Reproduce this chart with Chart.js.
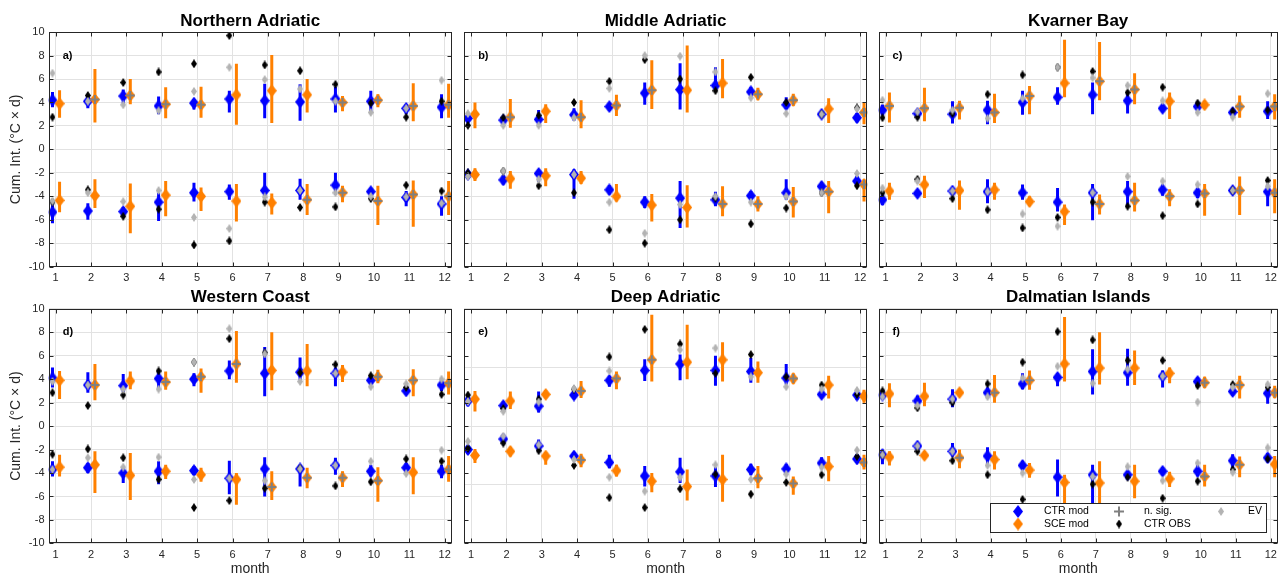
<!DOCTYPE html>
<html>
<head>
<meta charset="utf-8">
<script src="https://cdn.jsdelivr.net/npm/chart.js@4.4.0/dist/chart.umd.min.js"></script>
<style>
  html, body { margin: 0; padding: 0; background: #fff; }
  #wrap { position: relative; width: 1282px; height: 578px; overflow: hidden; }
  #wrap canvas { position: absolute; left: 0; top: 0; }
</style>
</head>
<body>
<div id="wrap"></div>
<script>
const months = [1, 2, 3, 4, 5, 6, 7, 8, 9, 10, 11, 12];

// a) Northern Adriatic
const naCtrPos = [4.2, 4.1, 4.55, 3.7, 3.95, 4.3, 4.15, 4.05, 4.3, 4.1, 3.5, 3.6];
const naCtrPosBar = [[3.6, 4.9], [3.5, 4.5], [3.9, 5.1], [3.0, 4.5], [3.4, 4.3], [3.15, 5.0], [2.65, 5.6], [2.45, 5.55], [3.15, 5.35], [3.15, 5.0], [3.0, 3.85], [2.65, 4.7]];
const naScePos = [3.9, 4.25, 4.6, 3.85, 3.8, 4.65, 5.0, 4.65, 4.0, 4.2, 3.7, 3.8];
const naScePosBar = [[2.7, 5.05], [2.3, 6.85], [3.85, 6.0], [2.65, 5.3], [2.7, 5.35], [2.1, 7.3], [2.25, 8.05], [3.15, 6.0], [3.25, 4.55], [3.6, 4.7], [2.4, 5.65], [2.7, 5.6]];
const naObsPos = [2.75, 4.6, 5.7, 6.6, 7.3, 9.7, 7.2, 6.7, 5.55, 3.95, 2.75, 4.1];
const naEvPos = [6.5, 4.1, 3.8, 3.3, 4.95, 7.0, 5.95, 5.15, 4.1, 3.15, 3.5, 5.9];
const naNsigPos = [0, 1, 1, 1, 1, 0, 0, 0, 1, 1, 1, 1];
const naCtrNeg = [-5.35, -5.25, -5.3, -4.5, -3.7, -3.6, -3.5, -3.5, -3.05, -3.6, -4.1, -4.65];
const naCtrNegBar = [[-6.3, -4.3], [-6.0, -4.6], [-5.8, -4.9], [-6.1, -3.7], [-4.45, -2.85], [-4.3, -3.0], [-4.15, -2.0], [-4.3, -2.5], [-3.85, -2.0], [-4.15, -3.3], [-4.85, -3.55], [-5.65, -4.0]];
const naSceNeg = [-4.35, -3.95, -4.85, -3.9, -4.0, -4.4, -4.55, -4.3, -3.7, -4.4, -3.85, -4.0];
const naSceNegBar = [[-5.35, -2.75], [-5.0, -2.55], [-7.15, -2.9], [-5.7, -2.7], [-5.25, -3.25], [-6.15, -2.95], [-5.55, -3.75], [-5.6, -2.95], [-4.5, -3.1], [-6.45, -3.1], [-6.6, -2.65], [-5.6, -2.7]];
const naObsNeg = [-4.5, -3.45, -5.7, -5.1, -8.15, -7.8, -4.5, -4.95, -4.9, -4.2, -3.05, -3.55];
const naEvNeg = [-4.4, -3.7, -4.45, -3.5, -5.8, -6.75, -4.05, -3.5, -3.7, -4.0, -4.05, -4.6];
const naNsigNeg = [0, 0, 0, 0, 0, 0, 0, 1, 1, 1, 1, 1];

// b) Middle Adriatic
const maCtrPos = [2.65, 2.5, 2.55, 2.95, 3.65, 4.8, 5.1, 5.45, 4.9, 3.8, 3.0, 2.7];
const maCtrPosBar = [[2.3, 3.0], [2.2, 2.8], [2.15, 3.35], [2.45, 3.5], [3.3, 3.95], [3.8, 5.7], [3.4, 7.35], [5.0, 7.0], [4.45, 5.35], [3.45, 4.45], [2.7, 3.3], [2.3, 3.1]];
const maScePos = [3.0, 2.75, 3.25, 2.75, 3.75, 5.05, 5.05, 5.65, 4.7, 4.2, 3.45, 3.15];
const maScePosBar = [[1.8, 4.0], [1.85, 4.3], [2.25, 3.85], [1.8, 4.2], [2.85, 4.65], [3.45, 7.6], [3.15, 8.85], [4.35, 7.7], [4.2, 5.25], [3.7, 4.75], [2.25, 4.35], [2.15, 4.0]];
const maObsPos = [2.05, 2.7, 2.9, 4.0, 5.8, 7.65, 6.0, 5.0, 6.15, 4.0, 3.0, 3.55];
const maEvPos = [3.05, 2.05, 2.05, 2.7, 5.2, 8.0, 7.95, 6.6, 4.4, 3.05, 3.0, 3.45];
const maNsigPos = [0, 1, 0, 1, 1, 1, 0, 0, 1, 1, 0, 1];
const maCtrNeg = [-2.15, -2.6, -2.05, -2.15, -3.45, -4.5, -4.15, -4.3, -3.95, -3.7, -3.15, -2.7];
const maCtrNegBar = [[-2.5, -1.85], [-3.0, -2.2], [-2.75, -1.8], [-4.2, -1.7], [-3.85, -3.05], [-5.0, -4.0], [-6.7, -2.7], [-4.85, -3.6], [-4.35, -3.55], [-4.3, -2.55], [-3.6, -2.75], [-3.1, -2.25]];
const maSceNeg = [-2.15, -2.5, -2.25, -2.45, -4.0, -4.75, -4.95, -4.65, -4.65, -4.45, -3.6, -3.0];
const maSceNegBar = [[-2.7, -1.6], [-3.35, -1.85], [-3.15, -1.6], [-2.95, -1.85], [-4.45, -2.95], [-6.15, -3.8], [-6.65, -3.05], [-5.7, -3.15], [-5.3, -4.0], [-5.8, -3.2], [-5.45, -2.7], [-4.45, -2.55]];
const maObsNeg = [-2.0, -1.85, -3.1, -3.7, -6.85, -8.0, -6.0, -4.15, -6.35, -5.0, -3.7, -3.1];
const maEvNeg = [-2.3, -1.85, -2.55, -2.15, -4.5, -7.15, -4.7, -4.0, -4.5, -4.0, -3.7, -2.05];
const maNsigNeg = [0, 0, 0, 0, 0, 0, 0, 1, 1, 1, 1, 1];

// c) Kvarner Bay
const kbCtrPos = [3.35, 3.05, 3.0, 3.35, 4.0, 4.45, 4.65, 4.15, 3.5, 3.65, 3.15, 3.25];
const kbCtrPosBar = [[2.9, 3.8], [2.9, 3.3], [2.2, 4.1], [2.15, 4.15], [2.95, 5.0], [3.8, 5.3], [3.0, 5.7], [3.05, 4.85], [3.2, 3.9], [3.3, 3.95], [2.85, 3.5], [2.6, 4.1]];
const kbScePos = [3.7, 3.5, 3.55, 3.15, 4.55, 5.65, 5.8, 5.1, 4.1, 3.8, 3.65, 3.65];
const kbScePosBar = [[2.3, 4.85], [2.4, 5.25], [2.55, 4.15], [2.25, 4.75], [3.0, 5.4], [4.45, 9.35], [4.2, 9.15], [3.85, 6.5], [2.6, 4.85], [3.45, 4.15], [2.7, 4.6], [2.55, 4.7]];
const kbObsPos = [2.7, 2.75, 3.05, 4.7, 6.35, 7.0, 6.65, 4.85, 5.3, 3.95, 3.25, 3.35];
const kbEvPos = [4.2, 3.2, 3.35, 2.65, 4.35, 7.0, 6.1, 5.45, 4.15, 3.15, 2.75, 4.75];
const kbNsigPos = [1, 1, 1, 1, 1, 0, 1, 1, 0, 0, 1, 1];
const kbCtrNeg = [-4.3, -3.75, -3.55, -3.6, -3.7, -4.5, -3.7, -3.6, -3.45, -3.7, -3.5, -3.6];
const kbCtrNegBar = [[-4.75, -3.85], [-4.0, -3.5], [-3.8, -3.3], [-4.6, -2.55], [-4.3, -3.0], [-5.3, -3.3], [-6.05, -2.95], [-4.75, -2.7], [-3.95, -3.0], [-4.15, -3.3], [-3.8, -3.25], [-4.85, -3.0]];
const kbSceNeg = [-3.55, -3.0, -3.5, -3.45, -4.45, -5.3, -4.65, -4.35, -4.0, -3.75, -3.5, -3.7];
const kbSceNegBar = [[-4.3, -2.85], [-4.15, -2.25], [-5.15, -2.65], [-4.3, -2.85], [-4.85, -4.0], [-6.45, -4.7], [-5.55, -3.85], [-5.3, -2.85], [-4.85, -3.4], [-5.65, -2.95], [-5.6, -2.3], [-5.45, -2.55]];
const kbObsNeg = [-3.7, -2.55, -4.2, -5.15, -6.7, -5.8, -4.5, -4.85, -5.65, -4.65, -3.5, -2.65];
const kbEvNeg = [-3.3, -2.7, -3.55, -3.6, -5.5, -6.55, -3.7, -2.3, -2.7, -3.0, -3.5, -3.15];
const kbNsigNeg = [0, 0, 0, 0, 0, 0, 1, 1, 1, 1, 1, 1];

// d) Western Coast
const wcCtrPos = [4.1, 3.5, 3.45, 4.05, 4.0, 4.7, 4.5, 4.6, 4.5, 3.9, 3.0, 3.5];
const wcCtrPosBar = [[3.3, 5.0], [2.85, 4.6], [2.9, 4.45], [3.1, 4.7], [3.4, 4.5], [4.0, 5.6], [2.55, 6.75], [3.9, 5.85], [3.4, 5.0], [3.55, 4.25], [2.7, 3.3], [3.0, 4.0]];
const wcScePos = [3.9, 3.5, 3.85, 3.75, 4.2, 5.3, 4.75, 4.7, 4.6, 4.2, 3.9, 3.65];
const wcScePosBar = [[2.3, 4.7], [2.2, 5.3], [3.15, 4.65], [3.1, 4.65], [2.85, 4.9], [3.7, 8.1], [3.05, 8.0], [3.4, 7.0], [3.75, 5.2], [3.65, 4.8], [2.55, 4.85], [2.7, 4.65]];
const wcObsPos = [2.85, 1.75, 2.65, 4.7, 5.45, 7.45, 6.25, 4.55, 5.25, 4.3, 3.3, 2.7];
const wcEvPos = [3.8, 3.5, 3.15, 3.15, 5.45, 8.3, 6.15, 3.8, 4.5, 3.35, 3.6, 4.0];
const wcNsigPos = [0, 1, 0, 1, 1, 1, 0, 0, 0, 1, 1, 1];
const wcCtrNeg = [-3.7, -3.55, -4.0, -3.85, -3.8, -4.45, -3.65, -3.65, -3.35, -3.85, -3.55, -3.85];
const wcCtrNegBar = [[-4.3, -3.0], [-4.0, -3.15], [-4.85, -3.45], [-4.95, -3.0], [-4.15, -3.4], [-5.8, -2.95], [-6.0, -2.65], [-5.15, -3.3], [-4.15, -2.7], [-4.3, -3.3], [-4.0, -3.15], [-4.45, -3.3]];
const wcSceNeg = [-3.5, -3.3, -4.2, -3.85, -4.15, -4.55, -5.2, -4.4, -4.4, -4.65, -3.95, -3.7];
const wcSceNegBar = [[-4.3, -2.45], [-5.7, -2.15], [-6.3, -2.3], [-4.5, -3.3], [-4.75, -3.55], [-6.7, -4.0], [-6.3, -3.85], [-5.3, -3.55], [-5.2, -3.85], [-6.45, -3.5], [-5.8, -2.65], [-4.75, -2.55]];
const wcObsNeg = [-2.4, -1.95, -2.7, -4.55, -6.95, -6.35, -5.3, -3.6, -5.1, -4.75, -2.8, -3.0];
const wcEvNeg = [-3.7, -2.7, -3.5, -2.65, -4.55, -4.45, -4.65, -3.65, -3.35, -3.0, -4.05, -2.05];
const wcNsigNeg = [0, 0, 0, 0, 0, 0, 1, 1, 1, 1, 0, 1];

// e) Deep Adriatic
const daCtrPos = [2.15, 1.75, 1.7, 2.65, 3.9, 4.75, 5.3, 4.75, 4.65, 4.1, 2.7, 2.65];
const daCtrPosBar = [[1.7, 2.5], [1.45, 2.1], [1.15, 2.95], [2.35, 3.0], [3.35, 4.3], [3.85, 5.7], [3.9, 6.1], [3.45, 6.0], [3.7, 5.8], [3.55, 5.3], [2.4, 3.05], [2.2, 3.1]];
const daScePos = [2.3, 2.15, 2.7, 3.0, 4.05, 5.65, 5.45, 5.65, 4.55, 4.05, 3.5, 2.55];
const daScePosBar = [[1.25, 3.0], [1.45, 2.95], [2.4, 3.05], [2.4, 3.85], [3.15, 4.65], [3.8, 9.5], [4.0, 8.65], [3.8, 7.15], [3.7, 5.5], [3.6, 4.5], [2.35, 4.3], [2.0, 3.1]];
const daObsPos = [2.65, 1.5, 2.3, 3.15, 5.9, 8.25, 7.0, 4.5, 6.1, 4.2, 3.5, 2.7];
const daEvPos = [2.1, 1.25, 2.05, 3.2, 4.7, null, 6.5, 6.65, 4.2, 3.35, 3.15, 3.05];
const daNsigPos = [0, 0, 0, 1, 1, 1, 0, 0, 0, 1, 0, 0];
const daCtrNeg = [-2.0, -1.1, -1.7, -2.55, -3.1, -4.25, -3.9, -4.25, -3.7, -3.65, -3.15, -2.8];
const daCtrNegBar = [[-2.4, -1.75], [-1.45, -0.8], [-2.15, -1.15], [-2.9, -2.2], [-3.6, -2.45], [-5.15, -3.4], [-4.85, -2.7], [-5.2, -3.5], [-4.2, -3.2], [-4.15, -3.2], [-3.6, -2.65], [-3.15, -2.4]];
const daSceNeg = [-2.5, -2.15, -2.55, -2.9, -3.8, -4.7, -5.15, -4.55, -4.45, -4.9, -3.45, -3.1];
const daSceNegBar = [[-3.15, -1.95], [-2.6, -1.75], [-3.3, -2.2], [-3.5, -2.35], [-4.3, -3.3], [-5.65, -4.0], [-6.35, -3.7], [-6.45, -2.45], [-5.3, -3.4], [-5.85, -4.3], [-4.7, -2.55], [-3.7, -2.45]];
const daObsNeg = [-1.9, -1.45, -2.1, -3.35, -6.1, -6.95, -5.35, -4.1, -5.8, -4.8, -4.15, -2.6];
const daEvNeg = [-1.3, -0.85, -1.6, -2.85, -4.35, -5.55, -4.35, -3.3, -4.55, -4.1, -3.5, -2.05];
const daNsigNeg = [0, 0, 0, 1, 0, 0, 0, 0, 1, 1, 0, 1];

// f) Dalmatian Islands
const diCtrPos = [2.65, 2.15, 2.3, 2.85, 3.6, 4.15, 4.65, 4.55, 4.25, 3.8, 2.95, 2.8];
const diCtrPosBar = [[2.3, 3.0], [1.7, 2.6], [1.6, 3.15], [2.45, 3.3], [3.15, 4.5], [3.4, 4.5], [2.7, 6.55], [3.45, 6.6], [3.3, 4.75], [3.3, 4.15], [2.6, 3.3], [1.9, 3.45]];
const diScePos = [2.75, 2.55, 2.85, 2.85, 3.9, 5.3, 4.95, 4.95, 4.5, 3.7, 3.5, 2.85];
const diScePosBar = [[1.6, 3.65], [1.7, 3.7], [2.6, 3.15], [2.0, 4.35], [3.1, 4.75], [3.8, 9.3], [3.55, 8.0], [3.5, 6.45], [3.65, 5.0], [3.25, 4.2], [2.35, 4.3], [2.4, 3.45]];
const diObsPos = [3.0, 1.55, 2.0, 3.6, 5.45, 8.05, 7.35, 5.6, 5.6, 3.45, 3.55, 3.3];
const diEvPos = [2.5, 1.75, 2.3, 2.5, 4.1, 5.1, 3.65, 4.85, 4.25, 2.05, 3.3, 3.55];
const diNsigPos = [0, 0, 0, 1, 1, 0, 0, 0, 0, 1, 1, 1];
const diCtrNeg = [-2.45, -1.7, -2.15, -2.55, -3.35, -4.35, -4.15, -4.15, -3.85, -3.85, -2.95, -2.7];
const diCtrNegBar = [[-3.25, -2.0], [-2.1, -1.4], [-2.6, -1.45], [-3.2, -1.8], [-3.7, -2.95], [-6.0, -2.85], [-6.75, -3.3], [-4.55, -3.85], [-4.15, -3.5], [-4.3, -3.3], [-3.6, -2.4], [-3.1, -2.3]];
const diSceNeg = [-2.65, -2.5, -2.7, -2.85, -3.75, -4.8, -4.85, -4.7, -4.5, -4.3, -3.3, -3.25];
const diSceNegBar = [[-3.35, -2.15], [-2.85, -2.15], [-3.6, -2.0], [-3.7, -2.15], [-4.4, -3.15], [-7.0, -4.15], [-7.0, -3.0], [-6.15, -3.3], [-5.2, -3.9], [-5.15, -3.3], [-4.35, -2.6], [-4.35, -2.55]];
const diObsNeg = [-2.45, -2.15, -2.95, -4.15, -6.25, -7.3, -4.95, -4.35, -6.15, -4.7, -3.7, -2.8];
const diEvNeg = [-2.45, -1.7, -2.15, -3.35, -4.0, -7.0, -4.3, -3.45, -4.65, -3.15, -3.95, -1.85];
const diNsigNeg = [0, 0, 1, 0, 0, 0, 0, 0, 0, 1, 1, 0];

const yTicks = [-10, -8, -6, -4, -2, 0, 2, 4, 6, 8, 10];
const yTicksDeep = [-10, -8, -6, -5, -4, -2, 0, 2, 4, 5, 6, 8, 10];

// colours / fonts
const BLUE = '#0000ff', ORANGE = '#ff8000', OBS = '#000000', EVC = '#b3b3b3', NSIG = '#808080';
const GRID = '#e2e2e2', AXIS = '#262626';
const FONT = "'Liberation Sans', Arial, Helvetica, sans-serif";
Chart.defaults.font.family = FONT;

const ctrDx = -0.09, sceDx = 0.11;

function diamond(w, h, fill) {
  const c = document.createElement('canvas');
  c.width = w; c.height = h;
  const g = c.getContext('2d');
  g.fillStyle = fill;
  g.beginPath();
  g.moveTo(w / 2, 0); g.lineTo(w, h / 2); g.lineTo(w / 2, h); g.lineTo(0, h / 2);
  g.closePath(); g.fill();
  return c;
}
const mkBlue = diamond(10, 13, BLUE);
const mkOrange = diamond(10, 13, ORANGE);
const mkObs = diamond(6, 9, OBS);
const mkEv = diamond(6, 9, EVC);

function pts(vals, dx, mask) {
  const out = [];
  vals.forEach((v, i) => {
    if (v == null) return;
    if (mask && !mask[i]) return;
    out.push({ x: months[i] + dx, y: v });
  });
  return out;
}

const panels = [
  { title: 'Northern Adriatic', tag: 'a)', col: 0, row: 0,
    ctr: [naCtrPos, naCtrNeg], ctrBar: [naCtrPosBar, naCtrNegBar], sce: [naScePos, naSceNeg], sceBar: [naScePosBar, naSceNegBar],
    obs: [naObsPos, naObsNeg], ev: [naEvPos, naEvNeg], nsig: [naNsigPos, naNsigNeg] },
  { title: 'Middle Adriatic', tag: 'b)', col: 1, row: 0,
    ctr: [maCtrPos, maCtrNeg], ctrBar: [maCtrPosBar, maCtrNegBar], sce: [maScePos, maSceNeg], sceBar: [maScePosBar, maSceNegBar],
    obs: [maObsPos, maObsNeg], ev: [maEvPos, maEvNeg], nsig: [maNsigPos, maNsigNeg] },
  { title: 'Kvarner Bay', tag: 'c)', col: 2, row: 0,
    ctr: [kbCtrPos, kbCtrNeg], ctrBar: [kbCtrPosBar, kbCtrNegBar], sce: [kbScePos, kbSceNeg], sceBar: [kbScePosBar, kbSceNegBar],
    obs: [kbObsPos, kbObsNeg], ev: [kbEvPos, kbEvNeg], nsig: [kbNsigPos, kbNsigNeg] },
  { title: 'Western Coast', tag: 'd)', col: 0, row: 1,
    ctr: [wcCtrPos, wcCtrNeg], ctrBar: [wcCtrPosBar, wcCtrNegBar], sce: [wcScePos, wcSceNeg], sceBar: [wcScePosBar, wcSceNegBar],
    obs: [wcObsPos, wcObsNeg], ev: [wcEvPos, wcEvNeg], nsig: [wcNsigPos, wcNsigNeg] },
  { title: 'Deep Adriatic', tag: 'e)', col: 1, row: 1, deep: true,
    ctr: [daCtrPos, daCtrNeg], ctrBar: [daCtrPosBar, daCtrNegBar], sce: [daScePos, daSceNeg], sceBar: [daScePosBar, daSceNegBar],
    obs: [daObsPos, daObsNeg], ev: [daEvPos, daEvNeg], nsig: [daNsigPos, daNsigNeg] },
  { title: 'Dalmatian Islands', tag: 'f)', col: 2, row: 1, legend: true,
    ctr: [diCtrPos, diCtrNeg], ctrBar: [diCtrPosBar, diCtrNegBar], sce: [diScePos, diSceNeg], sceBar: [diScePosBar, diSceNegBar],
    obs: [diObsPos, diObsNeg], ev: [diEvPos, diEvNeg], nsig: [diNsigPos, diNsigNeg] }
];

// geometry of the plot boxes
const colLeft = [48.6, 464.0, 878.6], plotW = 403.2;
const rowTop = [33.3, 310.0], plotH = 233.4;
const titleBox = 33.3;

// error bars drawn under the markers
const errorBars = {
  id: 'errorBars',
  beforeDatasetsDraw(chart, args, opts) {
    const { ctx, chartArea: a, scales: { x, y } } = chart;
    ctx.save();
    ctx.beginPath(); ctx.rect(a.left, a.top, a.width, a.height); ctx.clip();
    ctx.lineWidth = 3;
    opts.sets.forEach(s => {
      ctx.strokeStyle = s.color;
      s.bars.forEach(list => list.forEach((b, i) => {
        if (!b) return;
        const px = x.getPixelForValue(months[i] + s.dx);
        ctx.beginPath();
        ctx.moveTo(px, y.getPixelForValue(b[0]));
        ctx.lineTo(px, y.getPixelForValue(b[1]));
        ctx.stroke();
      }));
    });
    ctx.restore();
  }
};

function drawLegend(ctx, a) {
  const W = 276, H = 29;
  const L = a.right - 11.8 - W, T = a.bottom - 11.4 - H;
  ctx.save();
  ctx.fillStyle = '#fff';
  ctx.fillRect(L, T, W, H);
  ctx.strokeStyle = AXIS; ctx.lineWidth = 1;
  ctx.strokeRect(Math.round(L) + 0.5, Math.round(T) + 0.5, W, H);
  const y1 = T + 8.5, y2 = T + 21;
  ctx.drawImage(mkBlue, L + 28 - 5, y1 - 6.5);
  ctx.drawImage(mkOrange, L + 28 - 5, y2 - 6.5);
  ctx.drawImage(mkObs, L + 129 - 3, y2 - 4.5);
  ctx.drawImage(mkEv, L + 231 - 3, y1 - 4.5);
  ctx.strokeStyle = NSIG; ctx.lineWidth = 2;
  ctx.beginPath();
  ctx.moveTo(L + 129 - 5, y1); ctx.lineTo(L + 129 + 5, y1);
  ctx.moveTo(L + 129, y1 - 5); ctx.lineTo(L + 129, y1 + 5);
  ctx.stroke();
  ctx.fillStyle = '#000';
  ctx.font = '10.5px ' + FONT;
  ctx.textBaseline = 'middle'; ctx.textAlign = 'left';
  ctx.fillText('CTR mod', L + 54, y1);
  ctx.fillText('SCE mod', L + 54, y2);
  ctx.fillText('n. sig.', L + 154, y1);
  ctx.fillText('CTR OBS', L + 154, y2);
  ctx.fillText('EV', L + 258, y1);
  ctx.restore();
}

// axes box, inward ticks, panel letter, legend
const frame = {
  id: 'frame',
  afterDraw(chart, args, opts) {
    const { ctx, chartArea: a, scales: { x, y } } = chart;
    ctx.save();
    ctx.strokeStyle = AXIS; ctx.lineWidth = 1;
    const L = Math.round(a.left) + 0.5, R = Math.round(a.right) - 0.5;
    const T = Math.round(a.top) + 0.5, B = Math.round(a.bottom) - 0.5;
    ctx.beginPath();
    months.forEach(m => {
      const px = Math.round(x.getPixelForValue(m)) + 0.5;
      ctx.moveTo(px, B); ctx.lineTo(px, B - 4);
      ctx.moveTo(px, T); ctx.lineTo(px, T + 4);
    });
    yTicks.forEach(v => {
      const py = Math.round(y.getPixelForValue(v)) + 0.5;
      ctx.moveTo(L, py); ctx.lineTo(L + 4, py);
      ctx.moveTo(R, py); ctx.lineTo(R - 4, py);
    });
    ctx.stroke();
    ctx.strokeRect(L, T, R - L, B - T);
    ctx.fillStyle = '#000';
    ctx.font = 'bold 11px ' + FONT;
    ctx.textBaseline = 'middle'; ctx.textAlign = 'left';
    ctx.fillText(opts.tag, x.getPixelForValue(1.2), y.getPixelForValue(8));
    ctx.restore();
    if (opts.legend) drawLegend(ctx, a);
  }
};

const wrap = document.getElementById('wrap');

panels.forEach(p => {
  const canvas = document.createElement('canvas');
  canvas.width = 1282; canvas.height = 578;
  wrap.appendChild(canvas);

  const yW = p.col === 0 ? 48 : 0;
  const xH = p.row === 0 ? 20 : 34.6;
  const padding = {
    left: colLeft[p.col] - yW,
    right: 1282 - (colLeft[p.col] + plotW),
    top: rowTop[p.row] - titleBox,
    bottom: Math.max(0, 578 - (rowTop[p.row] + plotH) - xH)
  };
  const ticksY = p.deep ? yTicksDeep : yTicks;

  new Chart(canvas, {
    type: 'scatter',
    data: {
      datasets: [
        { label: 'n. sig.', data: pts(p.sce[0], sceDx, p.nsig[0]).concat(pts(p.sce[1], sceDx, p.nsig[1])),
          pointStyle: 'cross', pointRadius: 4.5, pointBorderColor: NSIG, pointBorderWidth: 2, order: 1 },
        { label: 'EV', data: pts(p.ev[0], ctrDx).concat(pts(p.ev[1], ctrDx)),
          pointStyle: mkEv, pointRadius: 4, order: 2 },
        { label: 'CTR OBS', data: pts(p.obs[0], ctrDx).concat(pts(p.obs[1], ctrDx)),
          pointStyle: mkObs, pointRadius: 4, order: 3 },
        { label: 'SCE mod', data: pts(p.sce[0], sceDx).concat(pts(p.sce[1], sceDx)),
          pointStyle: mkOrange, pointRadius: 6, order: 4 },
        { label: 'CTR mod', data: pts(p.ctr[0], ctrDx).concat(pts(p.ctr[1], ctrDx)),
          pointStyle: mkBlue, pointRadius: 6, order: 5 }
      ]
    },
    options: {
      responsive: false,
      animation: false,
      devicePixelRatio: 1,
      events: [],
      layout: { padding: padding, autoPadding: false },
      plugins: {
        legend: { display: false },
        tooltip: { enabled: false },
        title: {
          display: true, text: p.title, fullSize: false, color: '#000',
          font: { size: 17, weight: 'bold' }, padding: { top: 10.7, bottom: 1 }
        },
        errorBars: {
          sets: [
            { color: BLUE, dx: ctrDx, bars: p.ctrBar },
            { color: ORANGE, dx: sceDx, bars: p.sceBar }
          ]
        },
        frame: { tag: p.tag, legend: !!p.legend }
      },
      scales: {
        x: {
          type: 'linear', min: 0.8, max: 12.2,
          afterBuildTicks: s => { s.ticks = months.map(v => ({ value: v })); },
          afterFit: s => { s.height = xH; },
          grid: { color: GRID, drawTicks: false },
          border: { display: false },
          ticks: { padding: 5, color: AXIS, font: { size: 11 }, maxRotation: 0, autoSkip: false },
          title: { display: p.row === 1, text: 'month', color: AXIS, font: { size: 14 }, padding: { top: 0, bottom: 0 } }
        },
        y: {
          type: 'linear', min: -10, max: 10,
          afterBuildTicks: s => { s.ticks = ticksY.map(v => ({ value: v })); },
          afterFit: s => { s.width = yW; },
          grid: {
            drawTicks: false,
            color: c => (p.deep && c.tick && c.tick.value % 5 !== 0) ? 'rgba(0,0,0,0)' : GRID
          },
          border: { display: false },
          ticks: { display: p.col === 0, padding: 4, color: AXIS, font: { size: 11 } },
          title: { display: p.col === 0, text: 'Cum. Int. (°C × d)', color: AXIS, font: { size: 14 }, padding: { top: 7, bottom: 0 } }
        }
      }
    },
    plugins: [errorBars, frame]
  });
});
</script>
</body>
</html>
